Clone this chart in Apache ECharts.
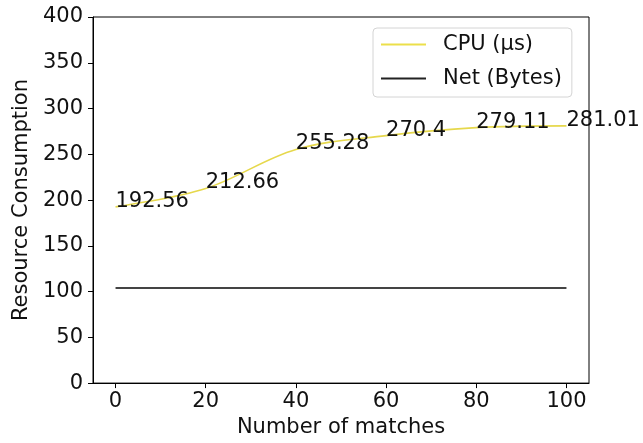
<!DOCTYPE html>
<html>
<head>
<meta charset="utf-8">
<script src="https://cdn.jsdelivr.net/npm/echarts@6/dist/echarts.min.js"></script>
<style>
html,body{margin:0;padding:0;background:#fff;}
#chart{width:643px;height:443px;}
</style>
</head>
<body>
<div id="chart"></div>
<script>
var matches = [0, 20, 40, 60, 80, 100];
var cpuValues = [192.56, 212.66, 255.28, 270.4, 279.11, 281.01];
var netValues = [104, 104, 104, 104, 104, 104];
var xTicks = [0, 20, 40, 60, 80, 100];
var seriesNames = ['CPU (µs)', 'Net (Bytes)'];
var xName = 'Number of matches';
var yName = 'Resource Consumption';

var FONT = 'DejaVu Sans';
var FS = 21;
var TXT = '#111';

function pairs(vals) {
  return matches.map(function (m, i) { return [m, vals[i]]; });
}

var chart = echarts.init(document.getElementById('chart'), null, {renderer: 'canvas'});
chart.setOption({
  animation: false,
  backgroundColor: '#fff',
  textStyle: {fontFamily: FONT},
  grid: {left: 93, right: 54, top: 17, bottom: 56, show: true, borderColor: '#000', borderWidth: 1, backgroundColor: 'transparent'},
  legend: {
    orient: 'vertical',
    left: 373,
    top: 28,
    padding: [6, 10, 8, 8],
    itemGap: 13,
    itemWidth: 45,
    itemHeight: 2,
    icon: 'rect',
    borderColor: '#d4d4d4',
    borderWidth: 1,
    borderRadius: 4,
    backgroundColor: '#fff',
    textStyle: {fontFamily: FONT, fontSize: FS, color: TXT, padding: [0, 0, 0, 12]},
    data: [
      {name: seriesNames[0], itemStyle: {color: '#ecdf4a', opacity: 1}},
      {name: seriesNames[1], itemStyle: {color: '#222', opacity: 1}}
    ]
  },
  xAxis: {
    type: 'value',
    min: -5,
    max: 105,
    name: xName,
    nameLocation: 'middle',
    nameGap: 32,
    nameTextStyle: {fontFamily: FONT, fontSize: FS, color: TXT},
    axisLine: {show: true, onZero: false, lineStyle: {color: '#000', width: 1}},
    axisTick: {show: true, length: 5, lineStyle: {color: '#000'}, customValues: xTicks},
    axisLabel: {fontFamily: FONT, fontSize: FS, color: TXT, margin: 8, customValues: xTicks},
    splitLine: {show: false}
  },
  yAxis: {
    type: 'value',
    min: 0,
    max: 400,
    interval: 50,
    name: yName,
    nameLocation: 'middle',
    nameRotate: 90,
    nameGap: 60,
    nameTextStyle: {fontFamily: FONT, fontSize: FS, color: TXT},
    axisLine: {show: true, onZero: false, lineStyle: {color: '#000', width: 1}},
    axisTick: {show: true, length: 5, lineStyle: {color: '#000'}},
    axisLabel: {fontFamily: FONT, fontSize: FS, color: TXT, margin: 10},
    splitLine: {show: false}
  },
  series: [
    {
      name: seriesNames[0],
      type: 'line',
      data: pairs(cpuValues),
      smooth: 0.35,
      symbol: 'circle',
      symbolSize: 0.1,
      showSymbol: true,
      itemStyle: {color: 'rgba(0,0,0,0)'},
      lineStyle: {color: '#e6d84c', width: 1.6},
      label: {
        show: true,
        position: [0, 0],
        align: 'left',
        verticalAlign: 'bottom',
        offset: [0, 5],
        fontFamily: FONT,
        fontSize: FS,
        color: TXT,
        formatter: function (p) { return String(p.value[1]); }
      },
      emphasis: {disabled: true},
      z: 3
    },
    {
      name: seriesNames[1],
      type: 'line',
      data: pairs(netValues),
      symbol: 'none',
      itemStyle: {color: '#222'},
      lineStyle: {color: '#444', width: 2},
      emphasis: {disabled: true},
      z: 2
    }
  ]
});
</script>
</body>
</html>
